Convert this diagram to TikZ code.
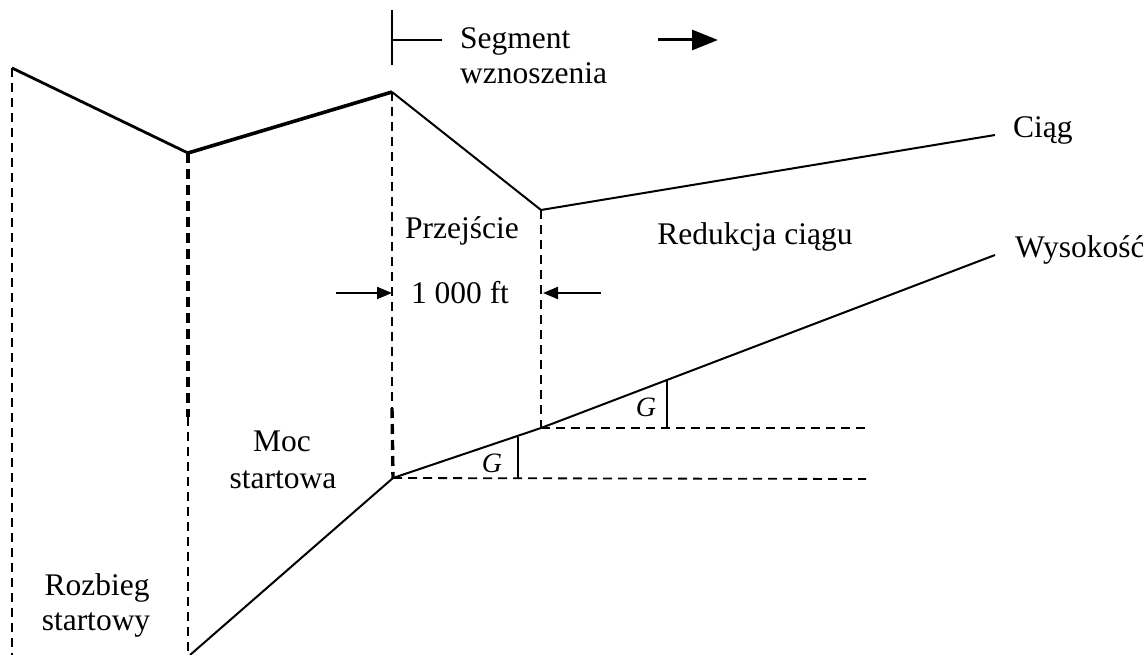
\documentclass[tikz,border=0pt]{standalone}
\usepackage{fontspec}
\setmainfont{Liberation Serif}
\usetikzlibrary{arrows.meta}
\begin{document}
\begin{tikzpicture}[x=1pt,y=-1pt,
  lbl/.style={font=\fontsize{31.5}{36}\selectfont, inner sep=0pt},
  thin/.style={line width=2pt},
  thickln/.style={line width=3.6pt},
  dsh/.style={line width=1.8pt, dash pattern=on 9pt off 6pt},
  dshthick/.style={line width=3.4pt, dash pattern=on 10pt off 6pt},
  gl/.style={font=\fontsize{28}{30}\selectfont\itshape, inner sep=0pt},
  arr/.style={line width=2pt, -{Triangle[length=15pt,width=12pt]}},
  bigarr/.style={line width=3pt, -{Triangle[length=26pt,width=20pt]}}]
\useasboundingbox (0,0) rectangle (1143,655);
% key points
\coordinate (t0) at (12,68);
\coordinate (t1) at (188,153);
\coordinate (t2) at (392,92);
\coordinate (t3) at (541,210);
\coordinate (t4) at (995,135);
\coordinate (a0) at (190,655);
\coordinate (a1) at (393,478);
\coordinate (a2) at (541,428);
\coordinate (a3) at (995,255);
\coordinate (b0) at (12,655);
\coordinate (b1) at (188,655);
\coordinate (m1) at (188,417);
\coordinate (m2) at (392,408);
\coordinate (h1) at (866,479);
\coordinate (h2) at (866,428);
\coordinate (g1t) at (518,437);
\coordinate (g1b) at (518,479);
\coordinate (g2t) at (667,381);
\coordinate (g2b) at (667,428);
\coordinate (s0) at (392,10);
\coordinate (s1) at (392,65);
\coordinate (s2) at (392,40);
\coordinate (s3) at (442,40);
\coordinate (sa0) at (658,40);
\coordinate (sa1) at (718,40);
\coordinate (la0) at (336,293);
\coordinate (la1) at (392,293);
\coordinate (ra0) at (601,293);
\coordinate (ra1) at (543,293);
% thrust line
\draw[line width=2.8pt, line join=round] (t0) -- (t1);
\draw[thickln, line join=round] (t1) -- (t2);
\draw[thin, line join=round] (t2) -- (t3) -- (t4);
% altitude line
\draw[thin, line join=round] (a0) -- (a1) -- (a2) -- (a3);
% vertical dashed
\draw[dsh] (t0) -- (b0);
\draw[dshthick] (t1) -- (m1);
\draw[dsh] (m1) -- (b1);
\draw[dsh] (t2) -- (m2);
\draw[dshthick] (m2) -- (a1);
\draw[dsh] (t3) -- (a2);
% horizontal dashed
\draw[dsh] (a1) -- (h1);
\draw[dsh] (a2) -- (h2);
% G angles
\draw[thin] (g1t) -- (g1b);
\draw[thin] (g2t) -- (g2b);
\node[gl] (G1) at (492,463) {G};
\node[gl] (G2) at (646,407) {G};
% segment marker
\draw[line width=2.6pt] (s0) -- (s1);
\draw[line width=2.6pt] (s2) -- (s3);
\draw[bigarr] (sa0) -- (sa1);
% 1000 ft arrows
\draw[arr] (la0) -- (la1);
\draw[arr] (ra0) -- (ra1);
% labels
\node[lbl, anchor=base west] (seg) at (460,49) {Segment};
\node[lbl, anchor=base west] (wzn) at (460,84) {wznoszenia};
\node[lbl, anchor=base] (prz) at (462,238) {Przejście};
\node[lbl, anchor=base] (ft) at (460,303) {1 000 ft};
\node[lbl, anchor=base] (red) at (755,244) {Redukcja ciągu};
\node[lbl, anchor=base west] (ciag) at (1013,138) {Ciąg};
\node[lbl, anchor=base west] (wys) at (1015,257) {Wysokość};
\node[lbl, anchor=base] (moc) at (282,451) {Moc};
\node[lbl, anchor=base] (start) at (283,488) {startowa};
\node[lbl, anchor=base] (roz) at (97,595) {Rozbieg};
\node[lbl, anchor=base] (rst) at (96,630) {startowy};
\end{tikzpicture}
\end{document}
